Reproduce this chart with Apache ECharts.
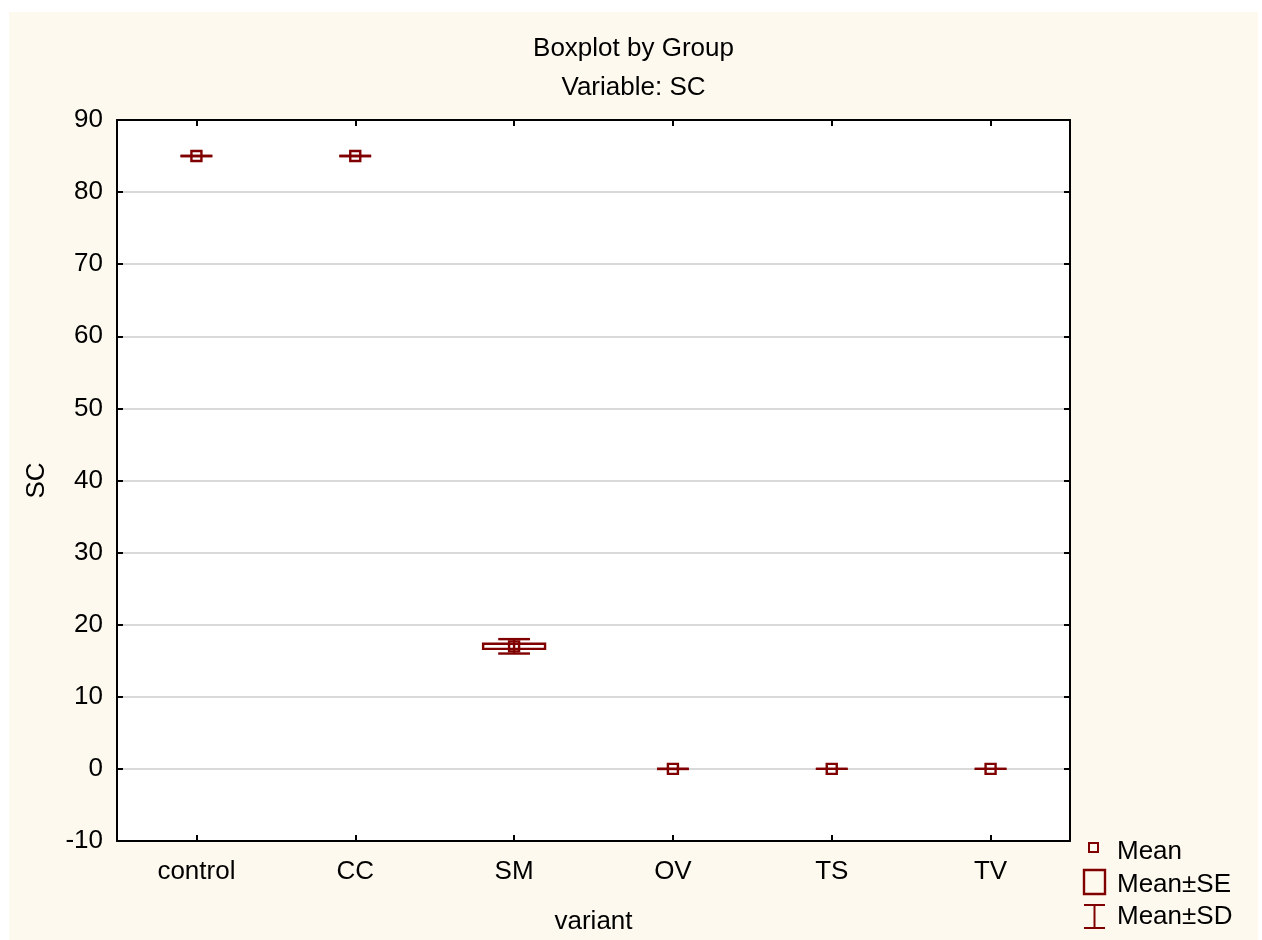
<!DOCTYPE html>
<html>
<head>
<meta charset="utf-8">
<script src="https://cdn.jsdelivr.net/npm/echarts@6/dist/echarts.min.js"></script>
<style>
html,body{margin:0;padding:0;background:#ffffff;}
#wrap{position:absolute;left:0;top:0;width:1262px;height:940px;background:#ffffff;}
#chart{position:absolute;left:9px;top:12px;width:1249px;height:928px;}
</style>
</head>
<body>
<div id="wrap"><div id="chart"></div></div>
<script>
// ---- data ----
const categories = ['control', 'CC', 'SM', 'OV', 'TS', 'TV'];
const means = [85, 85, 17.0, 0, 0, 0];
const stdErrs = [0, 0, 0.35, 0, 0, 0];
const stdDevs = [0, 0, 1.0, 0, 0, 0];
const yTicks = { min: -10, max: 90, interval: 10 };
const legendLabels = ['Mean', 'Mean\u00b1SE', 'Mean\u00b1SD'];

const COL = '#800000';
const FONT = '"Liberation Sans", Arial, sans-serif';
const FS = 26;
const OX = 9, OY = 12; // container offset

const seriesData = categories.map((c, i) => [i, means[i], stdErrs[i], stdDevs[i]]);

function renderItem(params, api) {
  const i = api.value(0), m = api.value(1), se = api.value(2), sd = api.value(3);
  const c = api.coord([i, m]);
  const bw = api.size([1, 0])[0];
  const boxW = bw * 0.39, capW = bw * 0.2;
  const sdT = api.coord([i, m + sd])[1], sdB = api.coord([i, m - sd])[1];
  const seT = api.coord([i, m + se])[1], seB = api.coord([i, m - se])[1];
  const st = { stroke: COL, lineWidth: 2.4, fill: null };
  const ch = [];
  if (sd > 0) {
    ch.push({ type: 'line', shape: { x1: c[0], y1: sdT, x2: c[0], y2: sdB }, style: st });
  }
  ch.push({ type: 'line', shape: { x1: c[0] - capW / 2, y1: sdT, x2: c[0] + capW / 2, y2: sdT }, style: st });
  ch.push({ type: 'line', shape: { x1: c[0] - capW / 2, y1: sdB, x2: c[0] + capW / 2, y2: sdB }, style: st });
  if (se > 0) {
    ch.push({ type: 'rect', shape: { x: c[0] - boxW / 2, y: seT, width: boxW, height: seB - seT }, style: st });
  }
  ch.push({ type: 'rect', shape: { x: c[0] - 5, y: c[1] - 5, width: 10, height: 10 }, style: st });
  return { type: 'group', children: ch };
}

const axisLineStyle = { color: '#000', width: 2 };
const tickStyle = { show: true, inside: true, length: 6, lineStyle: { color: '#000', width: 2 } };

const legendItems = [
  // Mean icon
  { type: 'rect', shape: { x: 1089 - OX, y: 843 - OY, width: 9, height: 9 }, style: { stroke: COL, lineWidth: 2, fill: null } },
  { type: 'text', x: 1117 - OX, y: 852 - OY, style: { text: legendLabels[0], fill: '#000', font: FS + 'px ' + FONT, verticalAlign: 'middle', align: 'left' } },
  // SE icon
  { type: 'rect', shape: { x: 1084 - OX, y: 870 - OY, width: 21, height: 24 }, style: { stroke: COL, lineWidth: 2.4, fill: null } },
  { type: 'text', x: 1117 - OX, y: 885 - OY, style: { text: legendLabels[1], fill: '#000', font: FS + 'px ' + FONT, verticalAlign: 'middle', align: 'left' } },
  // SD icon
  { type: 'line', shape: { x1: 1084 - OX, y1: 905 - OY, x2: 1105 - OX, y2: 905 - OY }, style: { stroke: COL, lineWidth: 2 } },
  { type: 'line', shape: { x1: 1084 - OX, y1: 928 - OY, x2: 1105 - OX, y2: 928 - OY }, style: { stroke: COL, lineWidth: 2 } },
  { type: 'line', shape: { x1: 1094.5 - OX, y1: 905 - OY, x2: 1094.5 - OX, y2: 928 - OY }, style: { stroke: COL, lineWidth: 2 } },
  { type: 'text', x: 1117 - OX, y: 917 - OY, style: { text: legendLabels[2], fill: '#000', font: FS + 'px ' + FONT, verticalAlign: 'middle', align: 'left' } }
];

const chart = echarts.init(document.getElementById('chart'), null, { renderer: 'canvas' });
chart.setOption({
  backgroundColor: '#fef9ee',
  animation: false,
  textStyle: { fontFamily: FONT },
  title: [
    { text: 'Boxplot by Group', left: 'center', top: 50 - OY - 14, padding: 0,
      textStyle: { fontSize: FS, fontWeight: 'normal', color: '#000', fontFamily: FONT } },
    { text: 'Variable: SC', left: 'center', top: 89 - OY - 14, padding: 0,
      textStyle: { fontSize: FS, fontWeight: 'normal', color: '#000', fontFamily: FONT } }
  ],
  grid: { left: 117 - OX, top: 120 - OY, right: 1258 - 1070, bottom: 940 - 842,
          show: true, backgroundColor: '#ffffff', borderWidth: 0 },
  xAxis: [
    { type: 'category', data: categories, position: 'bottom', boundaryGap: true,
      name: 'variant', nameLocation: 'middle', nameGap: 68,
      nameTextStyle: { fontSize: FS, color: '#000', fontFamily: FONT },
      axisLine: { show: true, onZero: false, lineStyle: axisLineStyle },
      axisTick: Object.assign({ alignWithLabel: true }, tickStyle),
      axisLabel: { fontSize: FS, color: '#000', margin: 18, fontFamily: FONT },
      splitLine: { show: false } },
    { type: 'category', data: categories, position: 'top', boundaryGap: true,
      axisLine: { show: true, onZero: false, lineStyle: axisLineStyle },
      axisTick: Object.assign({ alignWithLabel: true }, tickStyle),
      axisLabel: { show: false }, splitLine: { show: false } }
  ],
  yAxis: [
    { type: 'value', min: yTicks.min, max: yTicks.max, interval: yTicks.interval, position: 'left',
      name: 'SC', nameLocation: 'middle', nameGap: 67, nameRotate: 90,
      nameTextStyle: { fontSize: FS, color: '#000', fontFamily: FONT },
      axisLine: { show: true, onZero: false, lineStyle: axisLineStyle },
      axisTick: tickStyle,
      axisLabel: { fontSize: FS, color: '#000', margin: 14, fontFamily: FONT },
      splitLine: { show: true, lineStyle: { color: '#d9d9d9', width: 2 } } },
    { type: 'value', min: yTicks.min, max: yTicks.max, interval: yTicks.interval, position: 'right',
      axisLine: { show: true, onZero: false, lineStyle: axisLineStyle },
      axisTick: tickStyle,
      axisLabel: { show: false }, splitLine: { show: false } }
  ],
  series: [
    { type: 'custom', name: 'Mean', xAxisIndex: 0, yAxisIndex: 0, renderItem: renderItem,
      data: seriesData, encode: { x: 0, y: 1 }, z: 5, clip: false }
  ],
  graphic: legendItems
});
</script>
</body>
</html>
